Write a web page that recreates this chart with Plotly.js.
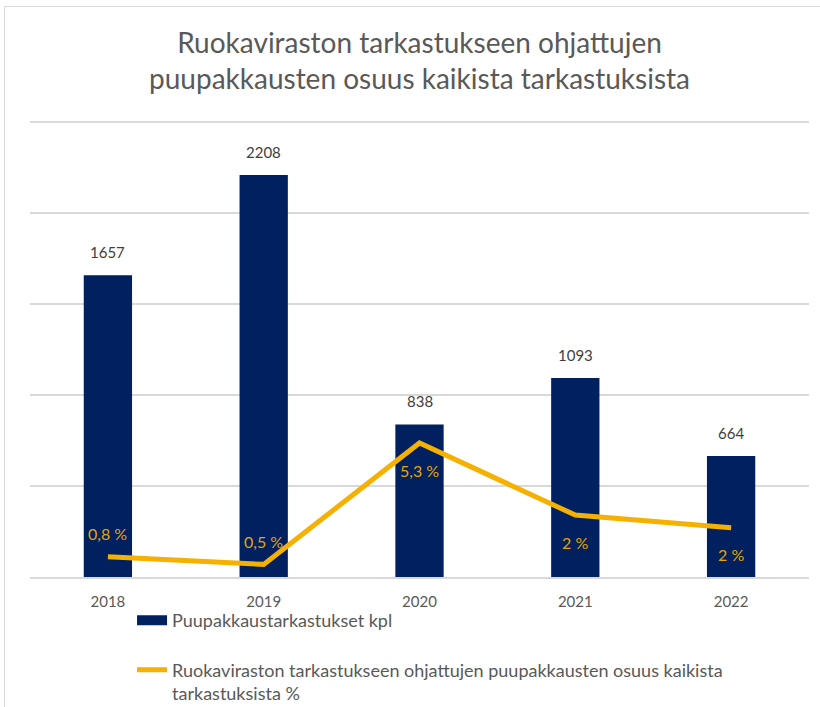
<!DOCTYPE html>
<html>
<head>
<meta charset="utf-8">
<script src="https://cdn.plot.ly/plotly-3.0.1.min.js"></script>
<style>
  body { margin: 0; background: #fff; overflow: hidden; }
  #frame { position: absolute; left: 4px; top: 6px; width: 840px; height: 720px; border: 1px solid #d9d9d9; }
  #chart { position: absolute; left: 0; top: 0; width: 820px; height: 707px; }
</style>
</head>
<body>
<div id="frame"></div>
<div id="chart"></div>
<script>
const years = ['2018', '2019', '2020', '2021', '2022'];
const inspections = [1657, 2208, 838, 1093, 664];
const sharePct = [0.8, 0.5, 5.3, 2.45, 1.95];
const shareLabels = ['0,8 %', '0,5 %', '5,3 %', '2 %', '2 %'];
const shareLabelSide = ['above', 'above', 'below', 'below', 'below'];

const barName = 'Puupakkaustarkastukset kpl';
const lineName = 'Ruokaviraston tarkastukseen ohjattujen puupakkausten osuus kaikista<br>tarkastuksista %';

const font = 'Lato, "Open Sans", sans-serif';
const grey = '#595959';
const navy = '#002060';
const gold = '#F5B000';

const bars = {
  x: years,
  y: inspections,
  type: 'bar',
  name: barName,
  width: 0.31,
  marker: { color: navy },
  showlegend: false
};

// legend-only entry so the bar swatch is a wide block like in the original
const barKey = {
  x: [null],
  y: [null],
  type: 'scatter',
  mode: 'lines',
  name: barName,
  line: { color: navy, width: 10 },
  legendgroup: 'a'
};

const line = {
  x: years,
  y: sharePct,
  type: 'scatter',
  mode: 'lines',
  name: lineName,
  yaxis: 'y2',
  line: { color: gold, width: 5 },
  legendgroup: 'b'
};

// value labels, placed through the axes (category index on x)
const annotations = [];
years.forEach((yr, i) => {
  annotations.push({
    x: i, y: inspections[i], xref: 'x', yref: 'y',
    text: String(inspections[i]), showarrow: false,
    yanchor: 'bottom', yshift: 12,
    font: { family: font, size: 15, color: '#404040' }
  });
  const up = shareLabelSide[i] === 'above';
  annotations.push({
    x: i, y: sharePct[i], xref: 'x', yref: 'y2',
    text: shareLabels[i], showarrow: false,
    yanchor: 'middle', yshift: up ? 23 : -27,
    font: { family: font, size: 16, color: '#E3A600' }
  });
});

const layout = {
  width: 820,
  height: 707,
  paper_bgcolor: 'rgba(0,0,0,0)',
  plot_bgcolor: 'rgba(0,0,0,0)',
  margin: { l: 30, r: 11, t: 120, b: 130, autoexpand: false },
  title: {
    text: 'Ruokaviraston tarkastukseen ohjattujen<br>puupakkausten osuus kaikista tarkastuksista',
    font: { family: font, size: 28, color: grey },
    xref: 'paper', x: 0.5, xanchor: 'center',
    y: 0.925, yanchor: 'top'
  },
  font: { family: font, color: grey },
  xaxis: {
    type: 'category',
    showgrid: false,
    showline: true,
    linecolor: '#d9d9d9',
    linewidth: 1.5,
    ticks: '',
    ticklabelstandoff: 10,
    tickfont: { family: font, size: 15, color: grey },
    fixedrange: true
  },
  yaxis: {
    range: [0, 2510],
    tickvals: [500, 1000, 1500, 2000, 2500],
    showticklabels: false,
    gridcolor: '#d9d9d9',
    gridwidth: 1.5,
    zeroline: false,
    fixedrange: true
  },
  yaxis2: {
    overlaying: 'y',
    side: 'right',
    range: [0, 18.08],
    showgrid: false,
    showticklabels: false,
    zeroline: false,
    fixedrange: true
  },
  showlegend: true,
  legend: {
    orientation: 'v',
    x: 0.131,
    xanchor: 'left',
    y: -0.055,
    yanchor: 'top',
    traceorder: 'grouped',
    tracegroupgap: 23,
    valign: 'top',
    font: { family: font, size: 18, color: grey },
    bgcolor: 'rgba(0,0,0,0)'
  },
  annotations: annotations
};

Plotly.newPlot('chart', [bars, barKey, line], layout, { displayModeBar: false, staticPlot: true });
</script>
</body>
</html>
